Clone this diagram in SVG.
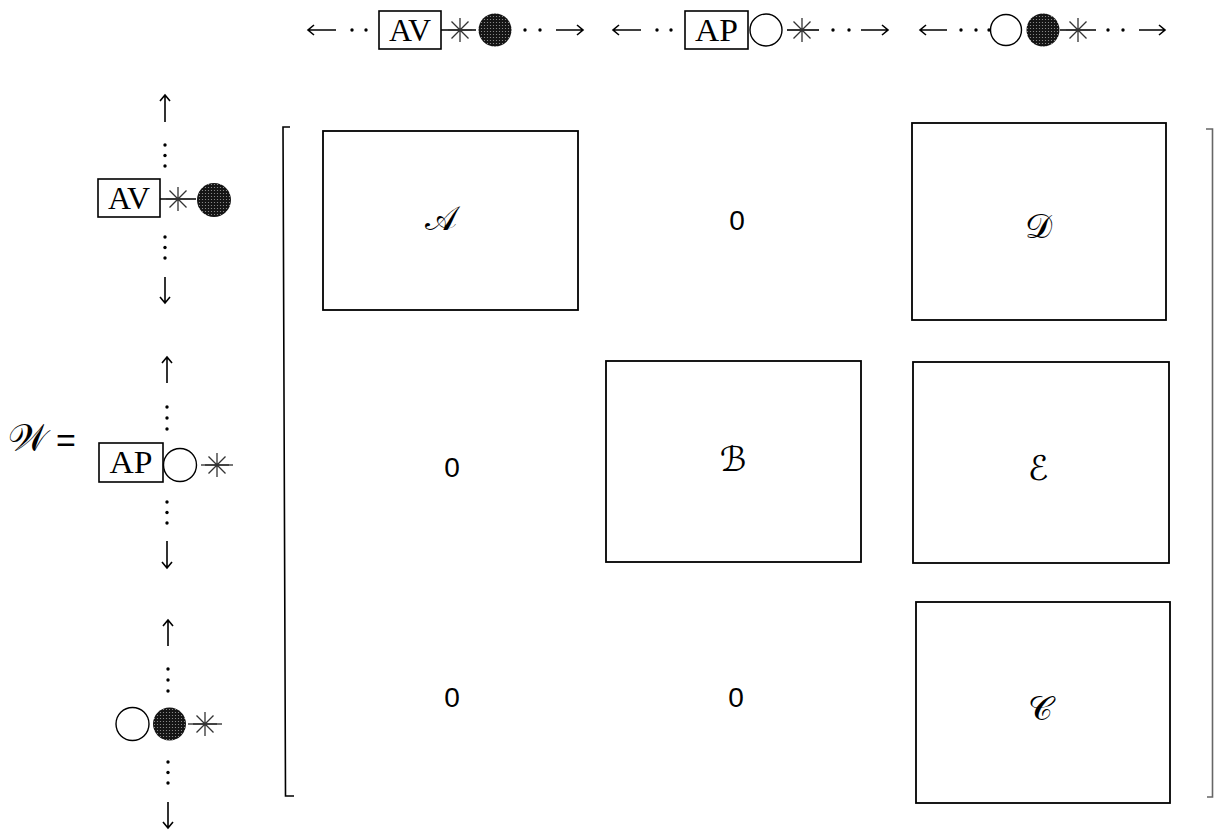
<svg xmlns="http://www.w3.org/2000/svg" width="1214" height="831" viewBox="0 0 1214 831">
<style>
  .ln{stroke:#000;stroke-width:1.6;fill:none}
  .box{stroke:#000;stroke-width:1.8;fill:#fff}
  .sbox{stroke:#000;stroke-width:1.6;fill:#fff}
  .ast{stroke:#333;stroke-width:1.3;fill:none}
  .ocirc{stroke:#000;stroke-width:1.4;fill:#fff}
  .fcirc{fill:url(#stip)}
  .lbl{font-family:"Liberation Serif",serif;font-size:32px;fill:#000;text-anchor:middle}
  .cal{font-family:"DejaVu Serif","DejaVu Sans",serif;font-size:34px;fill:#000;text-anchor:middle}
  .zero{font-family:"Liberation Sans",sans-serif;font-size:28px;fill:#000;text-anchor:middle}
  .dot{fill:#000}
</style>
<defs>
  <pattern id="stip" width="3" height="3" patternUnits="userSpaceOnUse">
    <rect width="3" height="3" fill="#151515"/>
    <circle cx="1.5" cy="1.5" r="0.6" fill="#9a9a9a"/>
  </pattern>
  <g id="ast">
    <path class="ast" d="M-12,0 L12,0 M0,-12 L0,12 M-8.5,-8.5 L8.5,8.5 M-8.5,8.5 L8.5,-8.5"/>
  </g>
</defs>
<rect width="1214" height="831" fill="#fff"/>

<!-- header groups -->
<g id="col-AV">
  <rect class="sbox" x="379" y="11" width="62" height="38"/>
  <text class="lbl" x="410" y="41" textLength="42" lengthAdjust="spacingAndGlyphs">AV</text>
  <line class="ln" x1="441" y1="30" x2="476" y2="30"/>
  <use href="#ast" x="460" y="30"/>
  <circle class="fcirc" cx="495" cy="30" r="16.5"/>
</g>
<g id="col-AP">
  <rect class="sbox" x="685" y="11" width="63" height="38"/>
  <text class="lbl" x="716.5" y="41" textLength="43" lengthAdjust="spacingAndGlyphs">AP</text>
  <circle class="ocirc" cx="766" cy="30" r="16"/>
  <line class="ln" x1="787" y1="30" x2="819" y2="30"/>
  <use href="#ast" x="802" y="30"/>
</g>
<g id="col-3">
  <circle class="dot" cx="989" cy="30" r="1.7"/>
  <circle class="ocirc" cx="1006" cy="30" r="15.5"/>
  <circle class="fcirc" cx="1043" cy="30" r="16.5"/>
  <line class="ln" x1="1060" y1="30" x2="1096" y2="30"/>
  <use href="#ast" x="1078" y="30"/>
</g>

<!-- left row groups -->
<g id="row-AV">
  <rect class="sbox" x="98" y="179" width="62" height="38"/>
  <text class="lbl" x="129" y="209" textLength="42" lengthAdjust="spacingAndGlyphs">AV</text>
  <line class="ln" x1="160" y1="199" x2="196" y2="199"/>
  <use href="#ast" x="178" y="199"/>
  <circle class="fcirc" cx="214" cy="200" r="17"/>
</g>
<g id="row-AP">
  <rect class="sbox" x="99" y="443" width="64" height="39"/>
  <text class="lbl" x="131" y="473" textLength="43" lengthAdjust="spacingAndGlyphs">AP</text>
  <circle class="ocirc" cx="180" cy="465" r="16.5"/>
  <line class="ln" x1="201" y1="465" x2="233" y2="465" style="stroke:#555"/>
  <use href="#ast" x="217" y="465"/>
</g>
<g id="row-3">
  <circle class="ocirc" cx="132.5" cy="724" r="16.5"/>
  <circle class="fcirc" cx="169.5" cy="724" r="16.5"/>
  <line class="ln" x1="188" y1="724" x2="222" y2="724" style="stroke:#444"/>
  <use href="#ast" x="205" y="724"/>
</g>

<!-- W = -->
<g id="lhs">
  <text x="28" y="451" class="cal" style="font-size:38px">𝒲</text>
  <text x="66" y="452" class="zero" style="font-size:34px">=</text>
</g>

<!-- brackets -->
<g id="brackets">
  <path class="ln" d="M290,127 L283,127 L285.5,796 L294,796"/>
  <path class="ln" d="M1206,129 L1212.5,129 L1212.5,797 L1207,797" style="stroke:#666"/>
</g>

<!-- blocks -->
<g id="block-A">
  <rect class="box" x="323" y="131" width="255" height="179"/>
  <text class="cal" x="441" y="230">𝒜</text>
</g>
<g id="block-D">
  <rect class="box" x="912" y="123" width="254" height="197"/>
  <text class="cal" x="1038" y="238">𝒟</text>
</g>
<g id="block-B">
  <rect class="box" x="606" y="361" width="255" height="201"/>
  <text class="cal" x="733" y="471">ℬ</text>
</g>
<g id="block-E">
  <rect class="box" x="913" y="362" width="256" height="201"/>
  <text class="cal" x="1038" y="480">ℰ</text>
</g>
<g id="block-C">
  <rect class="box" x="916" y="602" width="254" height="201"/>
  <text class="cal" x="1040" y="720">𝒞</text>
</g>
<g id="zeros">
  <text class="zero" x="737" y="230">0</text>
  <text class="zero" x="452" y="477">0</text>
  <text class="zero" x="452" y="707">0</text>
  <text class="zero" x="736" y="707">0</text>
</g>

<!-- connectors: arrows and ellipsis dots -->
<g id="connectors">
  <path class="ln" d="M308,30 L336,30 M314,25 L308,30 L314,35"/>
  <path class="ln" d="M556,30 L583,30 M577,25 L583,30 L577,35"/>
  <path class="ln" d="M613,30 L641,30 M619,25 L613,30 L619,35"/>
  <path class="ln" d="M861,30 L888,30 M882,25 L888,30 L882,35"/>
  <path class="ln" d="M920,30 L947,30 M926,25 L920,30 L926,35"/>
  <path class="ln" d="M1139,30 L1165,30 M1159,25 L1165,30 L1159,35"/>
  <g class="dot">
    <circle cx="352" cy="30" r="1.7"/><circle cx="366" cy="30" r="1.7"/>
    <circle cx="525" cy="30" r="1.7"/><circle cx="540" cy="30" r="1.7"/>
    <circle cx="657" cy="30" r="1.7"/><circle cx="671" cy="30" r="1.7"/>
    <circle cx="833" cy="30" r="1.7"/><circle cx="849" cy="30" r="1.7"/>
    <circle cx="961" cy="30" r="1.7"/><circle cx="976" cy="30" r="1.7"/>
    <circle cx="1108" cy="30" r="1.7"/><circle cx="1123" cy="30" r="1.7"/>
  </g>
  <path class="ln" d="M165,95 L165,122 M160,101 L165,95 L170,101"/>
  <path class="ln" d="M165,277 L165,303 M160,297 L165,303 L170,297"/>
  <path class="ln" d="M167,357 L167,383 M162,363 L167,357 L172,363"/>
  <path class="ln" d="M167,541 L167,568 M162,562 L167,568 L172,562"/>
  <path class="ln" d="M168,620 L168,646 M163,626 L168,620 L173,626"/>
  <path class="ln" d="M168,802 L168,828 M163,822 L168,828 L173,822"/>
  <g class="dot">
    <circle cx="165" cy="145" r="1.7"/><circle cx="165" cy="155.5" r="1.7"/><circle cx="165" cy="166" r="1.7"/>
    <circle cx="165" cy="237" r="1.7"/><circle cx="165" cy="247.5" r="1.7"/><circle cx="165" cy="258" r="1.7"/>
    <circle cx="167" cy="407" r="1.7"/><circle cx="167" cy="418" r="1.7"/><circle cx="167" cy="429" r="1.7"/>
    <circle cx="167" cy="502" r="1.7"/><circle cx="167" cy="512.5" r="1.7"/><circle cx="167" cy="523" r="1.7"/>
    <circle cx="168" cy="669" r="1.7"/><circle cx="168" cy="680" r="1.7"/><circle cx="168" cy="691" r="1.7"/>
    <circle cx="168" cy="762" r="1.7"/><circle cx="168" cy="772.5" r="1.7"/><circle cx="168" cy="783" r="1.7"/>
  </g>
</g>
</svg>
